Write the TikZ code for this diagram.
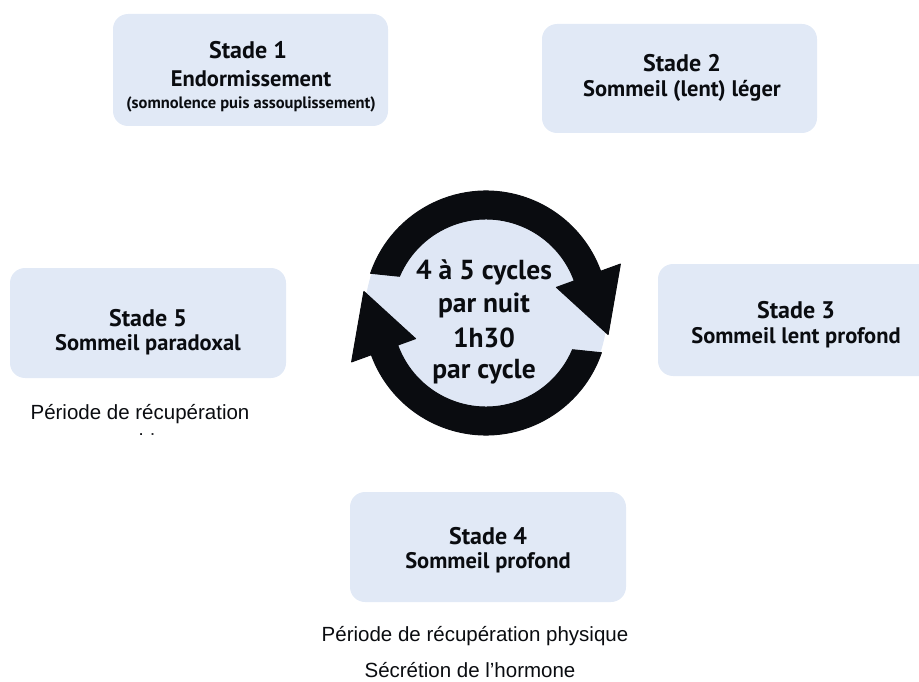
\documentclass[tikz,border=0pt]{standalone}
\usepackage{fontspec}
\newfontfamily\myr{PT Sans}
\newfontfamily\ar{Liberation Sans}
\definecolor{boxblue}{RGB}{225,233,246}
\definecolor{discblue}{RGB}{223,231,245}
\definecolor{ink}{RGB}{10,12,16}
\tikzset{
  stagebox/.style={fill=boxblue, rounded corners=15pt, draw=none},
  title/.style={font=\myr\bfseries\fontsize{24}{27}\selectfont, text=ink, inner sep=0pt},
  sub/.style={font=\myr\bfseries\fontsize{22.5}{25}\selectfont, text=ink, inner sep=0pt},
  small/.style={font=\myr\bfseries\fontsize{16.5}{19}\selectfont, text=ink, inner sep=0pt},
  centre/.style={font=\myr\bfseries\fontsize{27.5}{30}\selectfont, text=ink, inner sep=0pt},
  note/.style={font=\ar\fontsize{20.5}{23}\selectfont, text=ink, inner sep=0pt},
  arrowfill/.style={fill=ink, draw=ink, line width=1pt, line join=round}
}
\begin{document}
\begin{tikzpicture}[x=1pt, y=-1pt]
\useasboundingbox (0,0) rectangle (919,682);
% boxes
\fill[stagebox] (113,14) rectangle (388,126);
\fill[stagebox] (542,24) rectangle (817,133);
\fill[stagebox] (658,264) rectangle (940,376);
\fill[stagebox] (10,268) rectangle (286,378);
\fill[stagebox] (350,492) rectangle (626,602);
% stage 1
\node[title] (s1t) at (248,50) {Stade 1};
\node[sub] (s1s) at (251,79) {Endormissement};
\node[small] (s1p) at (251,104) {(somnolence puis assouplissement)};
% stage 2
\node[title] (s2t) at (682,63) {Stade 2};
\node[sub] (s2s) at (682,91) {Sommeil (lent) léger};
% stage 3
\node[title] (s3t) at (796,310) {Stade 3};
\node[sub] (s3s) at (796,338) {Sommeil lent profond};
% stage 5
\node[title] (s5t) at (148,318) {Stade 5};
\node[sub] (s5s) at (148,345) {Sommeil paradoxal};
% stage 4
\node[title] (s4t) at (488,536) {Stade 4};
\node[sub] (s4s) at (488,563) {Sommeil profond};
% cycle
\begin{scope}[shift={(486,313)}, yscale=-1]
  \fill[discblue] (0,0) circle[radius=121];
  \filldraw[arrowfill] (161:122) arc[start angle=161, end angle=20, radius=122]
     -- (20:143) -- (-10:124) -- (20:75) -- (20:94)
     arc[start angle=20, end angle=157, radius=94] -- cycle;
  \begin{scope}[rotate=180]
  \filldraw[arrowfill] (161:122) arc[start angle=161, end angle=20, radius=122]
     -- (20:143) -- (-10:124) -- (20:75) -- (20:94)
     arc[start angle=20, end angle=157, radius=94] -- cycle;
  \end{scope}
\end{scope}
\node[centre] (c1) at (484,272) {4 à 5 cycles};
\node[centre] (c2) at (484,305) {par nuit};
\node[centre] (c3) at (484,338) {1h30};
\node[centre] (c4) at (484,372) {par cycle};
% notes
\node[note] (n1) at (475,636) {Période de récupération physique};
\node[note] (n2) at (470,670) {Sécrétion de l’hormone};
\node[note] (n3) at (140,414) {Période de récupération};
\begin{scope}
  \clip (0,0) rectangle (919,434.5);
  \node[note, anchor=base] (n4) at (143,448.5) {psychique};
\end{scope}
\end{tikzpicture}
\end{document}
